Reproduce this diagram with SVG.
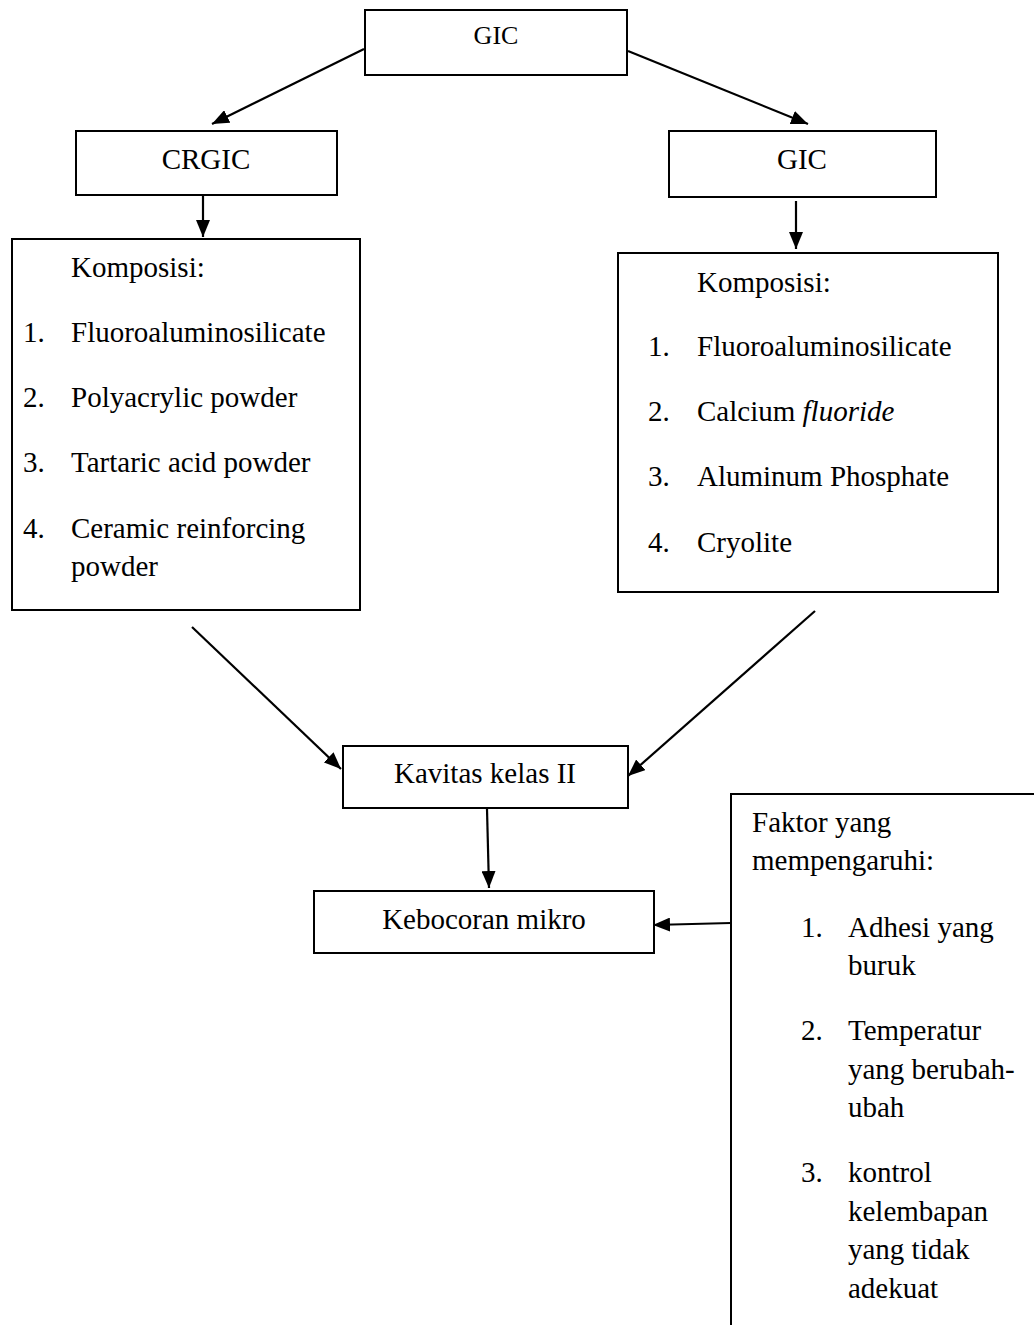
<svg xmlns="http://www.w3.org/2000/svg" width="1034" height="1325" viewBox="0 0 1034 1325">
<style>
.box{fill:#fff;stroke:#000;stroke-width:2}
.t{font-family:"Liberation Serif","Times New Roman",serif;font-size:29px;fill:#000}
.c{text-anchor:middle}
.edge{stroke:#000;stroke-width:2.2;fill:none;marker-end:url(#ah)}
</style>
<defs>
<marker id="ah" markerUnits="userSpaceOnUse" markerWidth="18" markerHeight="14" refX="17" refY="7" orient="auto">
<path d="M0,0 L17,7 L0,14 z" fill="#000"/>
</marker>
</defs>
<rect width="1034" height="1325" fill="#fff"/>
<g id="connectors">
<line class="edge" x1="364" y1="49" x2="212" y2="124"/>
<line class="edge" x1="628" y1="51" x2="808" y2="124"/>
<line class="edge" x1="203" y1="195" x2="203" y2="237"/>
<line class="edge" x1="796" y1="201" x2="796" y2="249"/>
<line class="edge" x1="192" y1="627" x2="341" y2="769"/>
<line class="edge" x1="815" y1="611" x2="628" y2="776"/>
<line class="edge" x1="487" y1="809" x2="489" y2="888"/>
<line class="edge" x1="731" y1="923" x2="653" y2="925"/>
</g>
<g id="gic-top">
<rect class="box" x="365" y="10" width="262" height="65"/>
<text class="t c" x="496" y="44" style="font-size:26px">GIC</text>
</g>
<g id="crgic">
<rect class="box" x="76" y="131" width="261" height="64"/>
<text class="t c" x="206" y="169">CRGIC</text>
</g>
<g id="gic-right">
<rect class="box" x="669" y="131" width="267" height="66"/>
<text class="t c" x="802" y="169">GIC</text>
</g>
<g id="komposisi-left">
<rect class="box" x="12" y="239" width="348" height="371"/>
<text class="t" x="71" y="277">Komposisi:</text>
<text class="t" x="23" y="342">1.</text><text class="t" x="71" y="342">Fluoroaluminosilicate</text>
<text class="t" x="23" y="407">2.</text><text class="t" x="71" y="407">Polyacrylic powder</text>
<text class="t" x="23" y="472">3.</text><text class="t" x="71" y="472">Tartaric acid powder</text>
<text class="t" x="23" y="538">4.</text><text class="t" x="71" y="538">Ceramic reinforcing</text>
<text class="t" x="71" y="576">powder</text>
</g>
<g id="komposisi-right">
<rect class="box" x="618" y="253" width="380" height="339"/>
<text class="t" x="697" y="292">Komposisi:</text>
<text class="t" x="648" y="356">1.</text><text class="t" x="697" y="356">Fluoroaluminosilicate</text>
<text class="t" x="648" y="421">2.</text><text class="t" x="697" y="421">Calcium <tspan font-style="italic">fluoride</tspan></text>
<text class="t" x="648" y="486">3.</text><text class="t" x="697" y="486">Aluminum Phosphate</text>
<text class="t" x="648" y="552">4.</text><text class="t" x="697" y="552">Cryolite</text>
</g>
<g id="kavitas">
<rect class="box" x="343" y="746" width="285" height="62"/>
<text class="t c" x="485" y="783">Kavitas kelas II</text>
</g>
<g id="kebocoran">
<rect class="box" x="314" y="891" width="340" height="62"/>
<text class="t c" x="484" y="929">Kebocoran mikro</text>
</g>
<g id="faktor">
<rect class="box" x="731" y="794" width="400" height="600"/>
<text class="t" x="752" y="832">Faktor yang</text>
<text class="t" x="752" y="870">mempengaruhi:</text>
<text class="t" x="801" y="937">1.</text><text class="t" x="848" y="937">Adhesi yang</text>
<text class="t" x="848" y="975">buruk</text>
<text class="t" x="801" y="1040">2.</text><text class="t" x="848" y="1040">Temperatur</text>
<text class="t" x="848" y="1079">yang berubah-</text>
<text class="t" x="848" y="1117">ubah</text>
<text class="t" x="801" y="1182">3.</text><text class="t" x="848" y="1182">kontrol</text>
<text class="t" x="848" y="1221">kelembapan</text>
<text class="t" x="848" y="1259">yang tidak</text>
<text class="t" x="848" y="1298">adekuat</text>
</g>
</svg>
